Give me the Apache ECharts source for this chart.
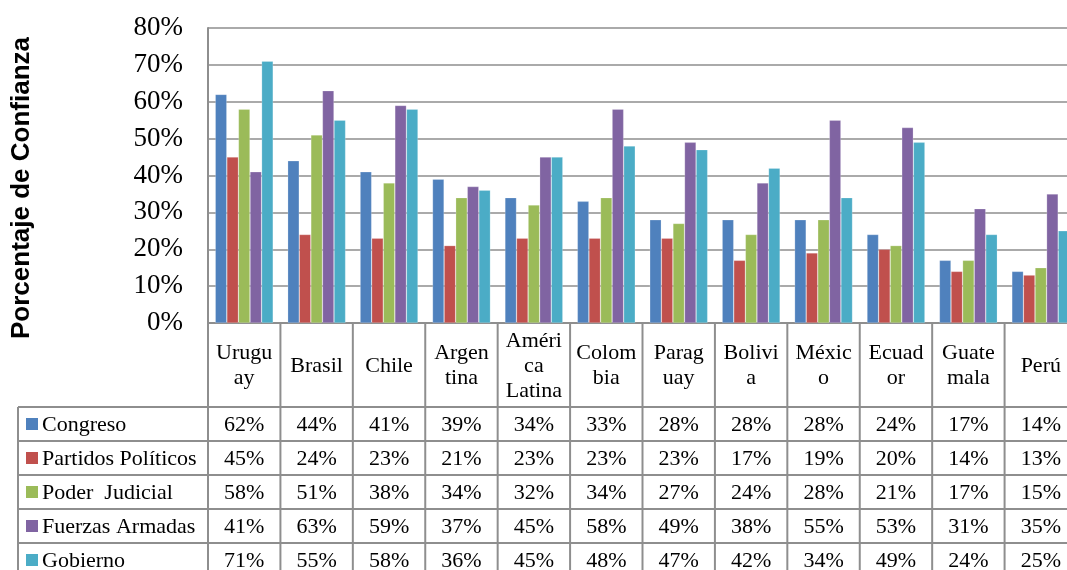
<!DOCTYPE html>
<html>
<head>
<meta charset="utf-8">
<script src="https://cdn.jsdelivr.net/npm/echarts@6/dist/echarts.min.js"></script>
<style>
html,body{margin:0;padding:0;background:#fff;overflow:hidden;width:1067px;height:570px;}
#c{width:1080px;height:570px;}
</style>
</head>
<body>
<div id="c"></div>
<script>
const categories = ['Uruguay','Brasil','Chile','Argentina','América Latina','Colombia','Paraguay','Bolivia','México','Ecuador','Guatemala','Perú'];
const headerLabels = ['Urugu\nay','Brasil','Chile','Argen\ntina','Améri\nca\nLatina','Colom\nbia','Parag\nuay','Bolivi\na','Méxic\no','Ecuad\nor','Guate\nmala','Perú'];
const seriesNames = ['Congreso','Partidos Políticos','Poder  Judicial','Fuerzas Armadas','Gobierno'];
const congreso = [62,44,41,39,34,33,28,28,28,24,17,14];
const partidos = [45,24,23,21,23,23,23,17,19,20,14,13];
const judicial = [58,51,38,34,32,34,27,24,28,21,17,15];
const fuerzas  = [41,63,59,37,45,58,49,38,55,53,31,35];
const gobierno = [71,55,58,36,45,48,47,42,34,49,24,25];
const yTicks = [0,10,20,30,40,50,60,70,80];

const seriesData = [congreso, partidos, judicial, fuerzas, gobierno];
const colors = ['#4F81BD','#C0504D','#9BBB59','#8064A2','#4BACC6'];
const lineColor = '#8e8e8e';
const serif = '"Liberation Serif", "DejaVu Serif", serif';

const chart = echarts.init(document.getElementById('c'), null, {renderer:'canvas'});
chart.setOption({
  animation: false,
  color: colors,
  grid: {left: 208, right: 3, top: 28, bottom: 247, containLabel: false},
  xAxis: {
    type: 'category',
    data: categories,
    axisLine: {show: true, lineStyle: {color: lineColor, width: 2}},
    axisTick: {show: false},
    axisLabel: {show: false}
  },
  yAxis: {
    type: 'value',
    min: yTicks[0], max: yTicks[yTicks.length-1], interval: 10,
    axisLine: {show: true, lineStyle: {color: lineColor, width: 2}},
    axisTick: {show: false},
    splitLine: {show: true, lineStyle: {color: lineColor, width: 1.6}},
    axisLabel: {formatter: '{value}%', fontFamily: serif, fontSize: 27, color: '#000', margin: 25}
  },
  series: seriesNames.map((n, i) => ({
    name: n, type: 'bar', data: seriesData[i],
    barGap: '0%', barCategoryGap: '20%',
    itemStyle: {color: colors[i], borderColor: 'rgba(255,255,255,0.35)', borderWidth: 0.6}
  }))
});

const c0 = chart.convertToPixel({xAxisIndex: 0}, 0);
const c1 = chart.convertToPixel({xAxisIndex: 0}, 1);
const bw = c1 - c0;
const yBase = chart.convertToPixel({yAxisIndex: 0}, 0);
const headerH = 84;
const rowH = 34;
const tableLeft = 18;
const bounds = categories.map((_, i) => chart.convertToPixel({xAxisIndex: 0}, i) - bw / 2);
bounds.push(bounds[bounds.length - 1] + bw);
const headerBottom = yBase + headerH;
const bottom = headerBottom + rowH * seriesNames.length;

const g = [];
bounds.forEach(x => {
  g.push({type: 'line', shape: {x1: x, y1: yBase, x2: x, y2: bottom}, style: {stroke: lineColor, lineWidth: 2}, z: 10});
});
g.push({type: 'line', shape: {x1: tableLeft, y1: headerBottom, x2: tableLeft, y2: bottom}, style: {stroke: lineColor, lineWidth: 2}, z: 10});
for (let r = 0; r <= seriesNames.length; r++) {
  const y = headerBottom + r * rowH;
  g.push({type: 'line', shape: {x1: tableLeft, y1: y, x2: bounds[bounds.length - 1], y2: y}, style: {stroke: lineColor, lineWidth: 2}, z: 10});
}
headerLabels.forEach((lab, i) => {
  g.push({type: 'text', x: (bounds[i] + bounds[i + 1]) / 2, y: (yBase + headerBottom) / 2 + 1, z: 11,
    style: {text: lab, fontFamily: serif, fontSize: 22, lineHeight: 25, fill: '#000', align: 'center', verticalAlign: 'middle'}});
});
seriesNames.forEach((n, r) => {
  const cy = headerBottom + r * rowH + rowH / 2 + 1;
  g.push({type: 'rect', shape: {x: 26, y: cy - 7, width: 12, height: 12}, style: {fill: colors[r]}, z: 11});
  g.push({type: 'text', x: 42, y: cy, z: 11,
    style: {text: n, fontFamily: serif, fontSize: 22, fill: '#000', align: 'left', verticalAlign: 'middle'}});
  seriesData[r].forEach((v, i) => {
    g.push({type: 'text', x: (bounds[i] + bounds[i + 1]) / 2, y: cy, z: 11,
      style: {text: v + '%', fontFamily: serif, fontSize: 22, fill: '#000', align: 'center', verticalAlign: 'middle'}});
  });
});
g.push({type: 'text', x: 22, y: 188, rotation: Math.PI / 2, z: 11,
  style: {text: 'Porcentaje de Confianza', fontFamily: '"Liberation Sans", Arial, sans-serif', fontWeight: 'bold', fontSize: 26, fill: '#000', align: 'center', verticalAlign: 'middle'}});

chart.setOption({graphic: g});
</script>
</body>
</html>
